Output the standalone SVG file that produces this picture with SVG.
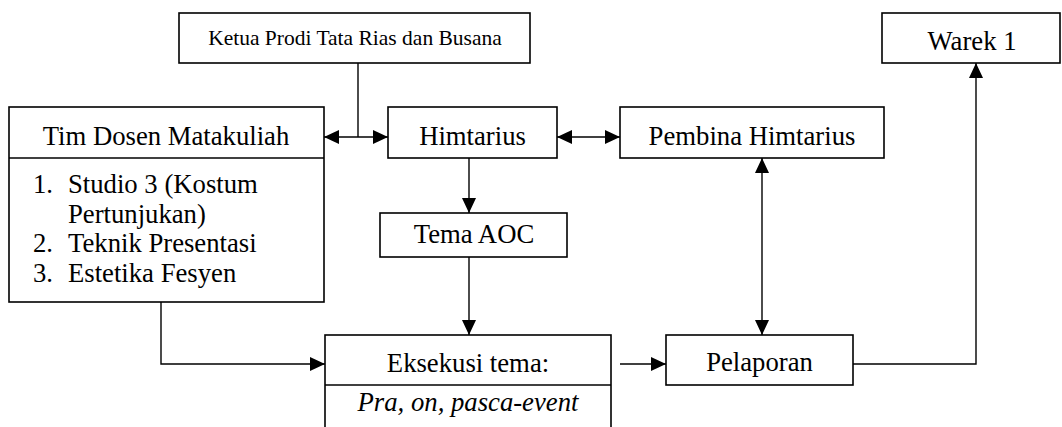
<svg xmlns="http://www.w3.org/2000/svg" width="1062" height="427" viewBox="0 0 1062 427">
<style>
.box{fill:#fff;stroke:#000;stroke-width:1.6}
.ln{fill:none;stroke:#000;stroke-width:1.4}
text{font-family:"Liberation Serif","Times New Roman",serif;font-size:26.7px;fill:#000}
.c{text-anchor:middle}
.sm{font-size:21.5px}
.it{font-style:italic}
</style>
<defs>
<marker id="ah" viewBox="0 0 15 14" refX="15" refY="7" markerWidth="15" markerHeight="14" markerUnits="userSpaceOnUse" orient="auto-start-reverse">
<path d="M0,0 L15,7 L0,14 Z" fill="#000"/>
</marker>
</defs>
<rect width="1062" height="427" fill="#fff"/>
<g id="connectors">
<path class="ln" d="M358,63 V137"/>
<path class="ln" d="M324,137 H388" marker-start="url(#ah)" marker-end="url(#ah)"/>
<path class="ln" d="M557,137 H620" marker-start="url(#ah)" marker-end="url(#ah)"/>
<path class="ln" d="M469,158 V213" marker-end="url(#ah)"/>
<path class="ln" d="M469,257 V335" marker-end="url(#ah)"/>
<path class="ln" d="M161,302 V364 H325" marker-end="url(#ah)"/>
<path class="ln" d="M620,364 H666" marker-end="url(#ah)"/>
<path class="ln" d="M762,158 V335" marker-start="url(#ah)" marker-end="url(#ah)"/>
<path class="ln" d="M853,364 H976 V63" marker-end="url(#ah)"/>
</g>
<g id="ketua">
<rect class="box" x="179" y="13" width="351" height="50"/>
<text class="c sm" x="355" y="45">Ketua Prodi Tata Rias dan Busana</text>
</g>
<g id="warek">
<rect class="box" x="882" y="13" width="178" height="50"/>
<text class="c" x="972" y="50">Warek 1</text>
</g>
<g id="timdosen">
<rect class="box" x="9" y="107" width="315" height="195"/>
<path class="ln" d="M9,158 H324" style="stroke-width:1.6"/>
<text class="c" x="166" y="145">Tim Dosen Matakuliah</text>
<text x="33" y="193">1.</text><text x="68" y="193">Studio 3 (Kostum</text>
<text x="68" y="222.5">Pertunjukan)</text>
<text x="33" y="252">2.</text><text x="68" y="252">Teknik Presentasi</text>
<text x="33" y="281.5">3.</text><text x="68" y="281.5">Estetika Fesyen</text>
</g>
<g id="himtarius">
<rect class="box" x="388" y="107" width="169" height="51"/>
<text class="c" x="472.5" y="145">Himtarius</text>
</g>
<g id="pembina">
<rect class="box" x="620" y="107" width="264" height="51"/>
<text class="c" x="752" y="145">Pembina Himtarius</text>
</g>
<g id="tema">
<rect class="box" x="380" y="213" width="187" height="44"/>
<text class="c" x="474" y="243">Tema AOC</text>
</g>
<g id="eksekusi">
<rect class="box" x="325" y="335" width="286" height="120"/>
<path class="ln" d="M325,385 H611" style="stroke-width:1.6"/>
<text class="c" x="468" y="372">Eksekusi tema:</text>
<text class="c it" x="468" y="411">Pra, on, pasca-event</text>
</g>
<g id="pelaporan">
<rect class="box" x="666" y="335" width="187" height="50"/>
<text class="c" x="759.5" y="371">Pelaporan</text>
</g>
</svg>
